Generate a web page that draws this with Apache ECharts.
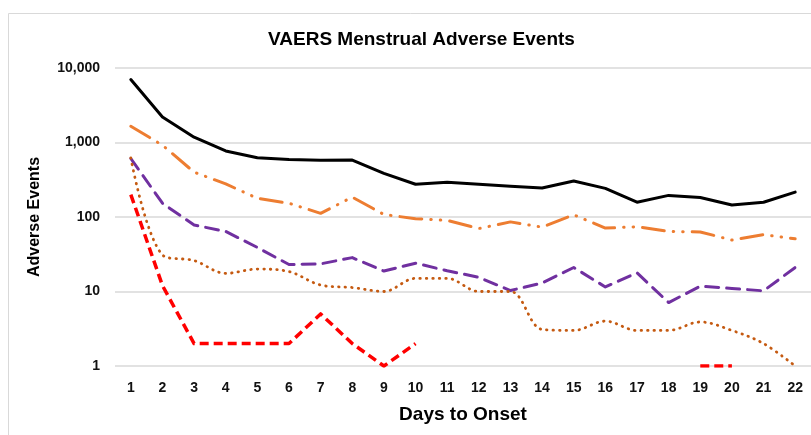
<!DOCTYPE html>
<html>
<head>
<meta charset="utf-8">
<script src="https://cdn.jsdelivr.net/npm/echarts@6/dist/echarts.min.js"></script>
<style>html,body{margin:0;padding:0;background:#fff}#c{width:811px;height:435px}</style>
</head>
<body>
<div id="c"></div>
<script>
const days = ['1','2','3','4','5','6','7','8','9','10','11','12','13','14','15','16','17','18','19','20','21','22'];
const seriesBlack  = [7000,2200,1180,770,625,590,578,580,385,275,292,275,258,245,304,242,158,195,183,145,158,216];
const seriesOrange = [1650,920,400,278,178,153,112,185,108,95,90,70,86,73,107,71,74,64,63,49,58,51];
const seriesPurple = [610,153,78,64,39,23,23.5,28.5,18.8,24,19,15.5,10.3,13,21,11.5,17.8,7.1,11.8,11,10.2,21];
const seriesBrown  = [620,31,26,17.5,20,18.5,12.2,11.3,10,15,15,10,10,3.1,3,4,3,3,3.9,3,2,1];
const seriesRed    = [200,12,2,2,2,2,5,2,1,2,null,null,null,null,null,null,null,null,1,1,null,null];
const yTicks = [1,10,100,1000,10000];

const font = 'Liberation Sans';
const chart = echarts.init(document.getElementById('c'));
function mk(name, data, color, width, type, cap, smooth) {
  return {
    name: name, type: 'line', data: data, symbol: 'none', smooth: smooth || false,
    connectNulls: false,
    lineStyle: { color: color, width: width, type: type, cap: cap || 'butt', join: 'round' }
  };
}
chart.setOption({
  animation: false,
  backgroundColor: '#fff',
  graphic: [{
    type: 'rect', left: 6, top: 11, shape: { width: 820, height: 440 },
    style: { fill: 'none', stroke: '#d9d9d9', lineWidth: 1 }, silent: true, z: -1
  }],
  title: {
    text: 'VAERS Menstrual Adverse Events', left: 263, top: 25,
    textStyle: { fontFamily: font, fontWeight: 'bold', fontSize: 19, color: '#000' }
  },
  grid: { left: 115, right: -1, top: 68, bottom: 69, containLabel: false },
  xAxis: {
    type: 'category', data: days, boundaryGap: true,
    name: 'Days to Onset', nameLocation: 'middle', nameGap: 39,
    nameTextStyle: { fontFamily: font, fontWeight: 'bold', fontSize: 19, color: '#000' },
    axisLine: { show: false }, axisTick: { show: false },
    axisLabel: { fontFamily: font, fontWeight: 'bold', fontSize: 14, color: '#111', margin: 15 }
  },
  yAxis: {
    type: 'log', logBase: 10, min: 1, max: 10000,
    name: 'Adverse Events', nameLocation: 'middle', nameGap: 72,
    nameTextStyle: { fontFamily: font, fontWeight: 'bold', fontSize: 16, color: '#000' },
    axisLine: { show: false }, axisTick: { show: false },
    splitLine: { lineStyle: { color: '#d9d9d9', width: 1.5 } },
    axisLabel: {
      fontFamily: font, fontWeight: 'bold', fontSize: 14, color: '#111', margin: 15,
      formatter: function (v) { return Math.round(v).toLocaleString('en-US'); }
    }
  },
  series: [
    mk('Black', seriesBlack, '#000000', 3, 'solid', 'round', false),
    mk('Orange', seriesOrange, '#ED7D31', 3, [22, 9, 0.5, 9, 0.5, 9], 'round', false),
    mk('Purple', seriesPurple, '#7030A0', 3, [13, 8], 'round', false),
    mk('Brown', seriesBrown, '#C55A11', 2.8, [0.5, 6], 'round', 0.35),
    mk('Red', seriesRed, '#FF0000', 3.5, [9, 5], 'butt', false)
  ]
});
</script>
</body>
</html>
